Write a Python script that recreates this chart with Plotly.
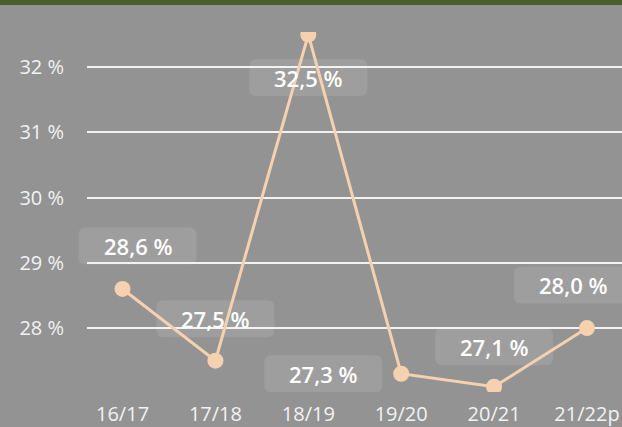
import plotly.graph_objects as go

# data
seasons = ["16/17", "17/18", "18/19", "19/20", "20/21", "21/22p"]
share = [28.6, 27.5, 32.5, 27.3, 27.1, 28.0]
labels = ["28,6 %", "27,5 %", "32,5 %", "27,3 %", "27,1 %", "28,0 %"]
# label offset from its point, in pixels (x, y up)
label_shift = [(15, 43), (0, 42), (0, -43), (-78, 0), (0, 40), (-14, 43)]
yticks = [28, 29, 30, 31, 32]
ytick_text = ["28 %", "29 %", "30 %", "31 %", "32 %"]

bg = "#939393"
line_col = "#f5d1b0"
font = "Open Sans"
W = 622
y_range = [27.02, 32.54]


def rounded_box(cx, cy, w=118, h=37, r=7):
    x0, x1 = cx - w / 2, cx + w / 2
    y0, y1 = cy - h / 2, cy + h / 2
    return (f"M {x0 + r},{y0} L {x1 - r},{y0} Q {x1},{y0} {x1},{y0 + r} "
            f"L {x1},{y1 - r} Q {x1},{y1} {x1 - r},{y1} "
            f"L {x0 + r},{y1} Q {x0},{y1} {x0},{y1 - r} "
            f"L {x0},{y0 + r} Q {x0},{y0} {x0 + r},{y0} Z")


fig = go.Figure()

# empty trace so the gridline subplot (x/y) gets drawn
fig.add_trace(go.Scatter(x=[None], y=[None], xaxis="x", yaxis="y",
                         hoverinfo="skip"))

# label boxes + text live on x2/y2 (drawn above the gridlines of x/y)
for s, v, t, (dx, dy) in zip(seasons, share, labels, label_shift):
    fig.add_shape(
        type="path", xref="x2", yref="y2",
        xsizemode="pixel", ysizemode="pixel", xanchor=s, yanchor=v,
        path=rounded_box(dx, dy),
        fillcolor="rgba(255,255,255,0.1)", line_width=0, layer="below",
    )
    fig.add_annotation(
        x=s, y=v, xref="x2", yref="y2", text=t, showarrow=False,
        xshift=dx, yshift=dy,
        font=dict(family=font, size=22, color="white", weight=600),
    )

fig.add_trace(go.Scatter(
    x=seasons, y=share, mode="lines+markers",
    xaxis="x2", yaxis="y2",
    line=dict(color=line_col, width=3),
    marker=dict(color=line_col, size=16),
    hoverinfo="skip",
))

# green strip across the top
fig.add_shape(type="rect", xref="paper", yref="paper",
              x0=-0.2, x1=1.2, y0=1 + 27 / 360, y1=1 + 40 / 360,
              fillcolor="#4a5f2c", line_width=0, layer="above")

fig.update_layout(
    width=W, height=427,
    margin=dict(l=0, r=0, t=32, b=35),
    paper_bgcolor=bg, plot_bgcolor="rgba(0,0,0,0)",
    showlegend=False,
    # gridlines / y labels
    xaxis=dict(domain=[87 / W, 1], range=[0, 1], visible=False),
    yaxis=dict(
        range=y_range, tickvals=yticks, ticktext=ytick_text,
        showgrid=True, gridcolor="#f2f2f2", gridwidth=2,
        zeroline=False, showline=False,
        tickfont=dict(family=font, size=20, color="#f2f2f2"),
        ticklabelstandoff=22,
    ),
    # data
    xaxis2=dict(
        domain=[70 / W, 1], anchor="y2",
        type="category", range=[-0.5655, 5.377],
        showgrid=False, zeroline=False, showline=False,
        tickfont=dict(family=font, size=20, color="#f2f2f2"),
        ticks="outside", ticklen=4, tickcolor="rgba(0,0,0,0)",
    ),
    yaxis2=dict(domain=[0, 1], anchor="x2", range=y_range, visible=False,
                showgrid=False),
)

fig.write_html("out.html", config={"displayModeBar": False},
               post_script="document.body.style.margin='0';")
